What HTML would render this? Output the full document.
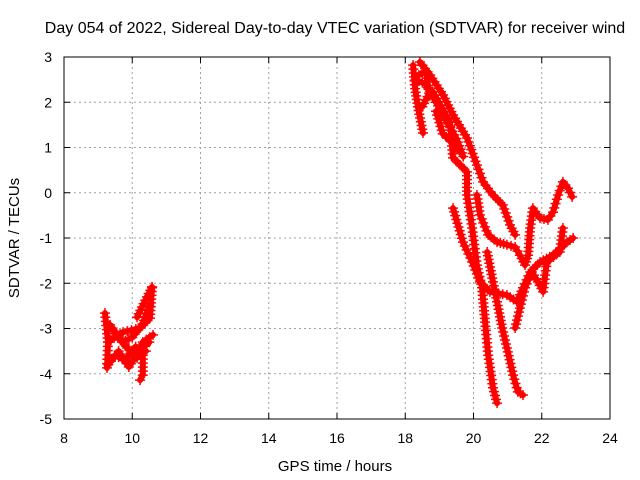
<!DOCTYPE html>
<html><head><meta charset="utf-8"><style>
html,body{margin:0;padding:0;background:#fff;}
svg{display:block;font-family:"Liberation Sans",sans-serif;}
</style></head><body>
<svg id="c" width="640" height="480" xmlns="http://www.w3.org/2000/svg">
<text x="335" y="33" font-size="16" text-anchor="middle">Day 054 of 2022, Sidereal Day-to-day VTEC variation (SDTVAR) for receiver wind</text>
<text x="335" y="471" font-size="15" text-anchor="middle">GPS time / hours</text>
<text transform="translate(19,238) rotate(-90)" font-size="15" text-anchor="middle">SDTVAR / TECUs</text>
<g id="grid"></g><g id="marks"></g><g id="axes"></g>
</svg>
<script>
const xTicks=[8,10,12,14,16,18,20,22,24];
const yTicks=[3,2,1,0,-1,-2,-3,-4,-5];
const trackL1=[[9.20,-2.66],[9.29,-3.30],[9.26,-3.87]];
const trackL2=[[9.29,-3.30],[9.73,-3.08],[10.23,-2.99],[10.52,-2.77],[10.58,-2.10]];
const trackL3=[[9.35,-2.92],[9.85,-3.43],[10.14,-3.65],[10.31,-3.30],[10.61,-3.14]];
const trackL4=[[10.14,-2.75],[10.43,-2.30],[10.58,-2.08]];
const trackL5=[[10.31,-3.59],[10.31,-4.03],[10.23,-4.14]];
const trackL6=[[9.30,-3.80],[9.60,-3.50],[9.90,-3.85],[10.20,-3.50],[10.50,-3.30]];
const trackL7=[[9.40,-3.00],[9.70,-3.30],[10.00,-3.20],[10.30,-2.90],[10.50,-2.50]];
const trackL8=[[9.50,-3.60],[9.80,-3.70],[10.10,-3.40],[10.40,-3.50]];
const trackT1=[[18.23,2.82],[18.29,2.30],[18.37,1.90],[18.52,1.32]];
const trackT2=[[18.43,2.89],[18.73,2.60],[19.11,2.16],[19.40,1.72],[19.81,1.21],[20.10,0.61],[20.28,0.24],[20.57,-0.05],[20.86,-0.27],[21.07,-0.71],[21.22,-0.93]];
const trackT3=[[18.81,2.23],[19.31,1.56],[19.40,0.77],[19.81,0.46],[19.81,-0.05],[19.96,-0.78],[20.10,-1.60],[20.25,-2.10],[20.34,-2.86],[20.43,-3.59],[20.57,-4.31],[20.69,-4.65]];
const trackT4=[[19.40,-0.34],[19.69,-1.09],[19.96,-1.53],[20.19,-1.97],[20.48,-2.19],[20.98,-2.26],[21.27,-2.41],[21.45,-2.10],[21.66,-1.75],[21.95,-1.53],[22.33,-1.38],[22.74,-1.09],[22.92,-1.00]];
const trackT5=[[20.10,-0.05],[20.19,-0.49],[20.43,-0.93],[20.69,-1.09],[20.98,-1.15],[21.22,-1.20],[21.36,-1.38],[21.51,-1.60],[21.60,-1.38],[21.66,-0.78],[21.74,-0.34],[21.95,-0.56],[22.18,-0.60],[22.33,-0.43],[22.48,-0.05],[22.62,0.24],[22.77,0.10],[22.89,-0.09]];
const trackT6=[[20.40,-1.31],[20.57,-1.97],[20.69,-2.41],[20.84,-2.99],[20.98,-3.43],[21.16,-4.03],[21.30,-4.40],[21.45,-4.47]];
const trackT7=[[21.22,-2.99],[21.36,-2.55],[21.51,-2.10],[21.71,-1.75],[21.89,-1.97],[22.04,-2.19],[22.10,-1.82],[22.15,-1.53],[22.53,-1.31],[22.62,-0.78]];
const trackT8=[[18.30,2.50],[18.60,2.40],[18.90,2.00],[19.20,1.60],[19.50,1.20],[19.70,0.80]];
const trackT9=[[18.40,2.60],[18.60,2.70],[18.70,2.20],[18.50,1.90]];
const trackT10=[[18.90,1.80],[19.10,1.30],[19.40,1.10],[19.60,0.90]];
const tracks=[trackL1,trackL2,trackL3,trackL4,trackL5,trackL6,trackL7,trackL8,trackT1,trackT2,trackT3,trackT4,trackT5,trackT6,trackT7,trackT8,trackT9,trackT10];

const X0=64,X1=610,Y0=57,Y1=419;
const xs=h=>X0+(h-8)/16*(X1-X0);
const ys=v=>Y0+(3-v)/8*(Y1-Y0);
const NS="http://www.w3.org/2000/svg";
function mk(tag,attrs,parent){const e=document.createElementNS(NS,tag);for(const k in attrs)e.setAttribute(k,attrs[k]);parent.appendChild(e);return e;}
const grid=document.getElementById('grid'),marks=document.getElementById('marks'),axes=document.getElementById('axes');
xTicks.forEach(t=>{const x=xs(t);
 if(t>8&&t<24){const g=mk('line',{x1:x,y1:Y0,x2:x,y2:Y1,stroke:'#a0a0a0','stroke-dasharray':'2,3'},grid);
 
 }
 mk('line',{x1:x,y1:Y1,x2:x,y2:Y1-6,stroke:'#000'},axes);
 mk('line',{x1:x,y1:Y0,x2:x,y2:Y0+6,stroke:'#000'},axes);
 const l=mk('text',{x:x,y:443,'font-size':14,'text-anchor':'middle'},axes);l.textContent=t;
 
 
});
yTicks.forEach(t=>{const y=ys(t);
 if(t<3&&t>-5){const g=mk('line',{x1:X0,y1:y,x2:X1,y2:y,stroke:'#a0a0a0','stroke-dasharray':'2,3'},grid);
 
 }
 mk('line',{x1:X0,y1:y,x2:X0+6,y2:y,stroke:'#000'},axes);
 mk('line',{x1:X1,y1:y,x2:X1-6,y2:y,stroke:'#000'},axes);
 const l=mk('text',{x:52,y:y+5,'font-size':14,'text-anchor':'end'},axes);l.textContent=t;
 
 
});
const fr=mk('rect',{x:X0,y:Y0,width:X1-X0,height:Y1-Y0,fill:'none',stroke:'#000'},axes);


tracks.forEach(tr=>{
 const g=mk('g',{},marks);
 
 
 const pts=tr.map(p=>xs(p[0])+','+ys(p[1])).join(' ');
 mk('polyline',{points:pts,fill:'none',stroke:'#ff0000','stroke-width':6,'stroke-linejoin':'round','stroke-linecap':'round'},g);
 let d='';
 for(let i=0;i<tr.length-1;i++){
  const ax=xs(tr[i][0]),ay=ys(tr[i][1]),bx=xs(tr[i+1][0]),by=ys(tr[i+1][1]);
  const n=Math.max(1,Math.round(Math.hypot(bx-ax,by-ay)/4));
  for(let k=0;k<=n;k++){const x=ax+(bx-ax)*k/n,y=ay+(by-ay)*k/n;
   d+=`M${x-5},${y}h10M${x},${y-5}v10`;}
 }
 mk('path',{d:d,stroke:'#ff0000','stroke-width':1.5,fill:'none'},g);
});
</script>
</body></html>
